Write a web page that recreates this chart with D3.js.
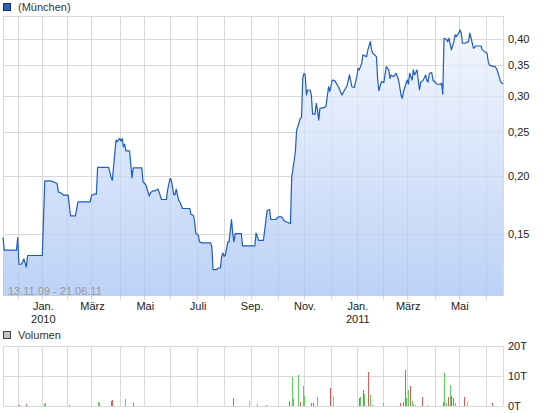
<!DOCTYPE html>
<html><head><meta charset="utf-8">
<script src="https://cdn.jsdelivr.net/npm/d3@7"></script>
<style>body{margin:0;background:#fff} svg{display:block;font-family:"Liberation Sans",Arial,sans-serif}</style>
</head><body><svg id="c" width="545" height="413"></svg>
<script>
// ---------- data ----------
const seriesName = "(München)";
const volumeName = "Volumen";
const rangeLabel = "13.11.09 - 21.06.11";
const firstDay = "2009-11-13", lastDay = "2011-06-21";
const holidays = ["2009-12-24","2009-12-25","2009-12-31","2010-01-01","2010-04-02","2010-04-05",
  "2010-12-24","2010-12-31","2011-04-22","2011-04-25"];

const priceDates = [
"2009-11-13","2009-11-16","2009-11-30","2009-12-01","2009-12-02","2009-12-04","2009-12-08","2009-12-10","2009-12-11",
"2010-01-04","2010-01-06","2010-01-13","2010-01-20","2010-01-21","2010-01-26","2010-01-27","2010-02-02","2010-02-04",
"2010-02-10","2010-02-12","2010-02-26","2010-03-01","2010-03-03","2010-03-05","2010-03-08","2010-03-19","2010-03-23",
"2010-03-24","2010-03-25","2010-03-29","2010-03-30","2010-04-01","2010-04-06","2010-04-07","2010-04-08","2010-04-09",
"2010-04-12","2010-04-15","2010-04-19","2010-04-20","2010-04-29","2010-04-30","2010-05-04","2010-05-05","2010-05-07",
"2010-05-10","2010-05-12","2010-05-14","2010-05-18","2010-05-19","2010-05-21","2010-05-27","2010-05-28","2010-06-01",
"2010-06-02","2010-06-04","2010-06-07","2010-06-08","2010-06-10","2010-06-11","2010-06-15","2010-06-23","2010-06-24",
"2010-06-28","2010-06-29","2010-06-30","2010-07-02","2010-07-05","2010-07-07","2010-07-16","2010-07-19","2010-07-20",
"2010-07-23","2010-07-26","2010-07-28","2010-07-29","2010-07-30","2010-08-02","2010-08-03","2010-08-05","2010-08-06",
"2010-08-10","2010-08-11","2010-08-12","2010-08-13","2010-08-20","2010-08-23","2010-09-06","2010-09-07","2010-09-09",
"2010-09-15","2010-09-20","2010-09-22","2010-09-23","2010-09-29","2010-10-01","2010-10-06","2010-10-08","2010-10-12",
"2010-10-15","2010-10-18","2010-10-21","2010-10-22","2010-10-25","2010-10-27","2010-10-28","2010-10-29","2010-11-01",
"2010-11-02","2010-11-03","2010-11-04","2010-11-08","2010-11-09","2010-11-10","2010-11-12","2010-11-15","2010-11-16",
"2010-11-17","2010-11-18","2010-11-24","2010-11-25","2010-11-29","2010-11-30","2010-12-02","2010-12-06","2010-12-09",
"2010-12-14","2010-12-16","2010-12-20","2010-12-22","2010-12-27","2010-12-29","2011-01-03","2011-01-04","2011-01-05",
"2011-01-07","2011-01-10","2011-01-13","2011-01-14","2011-01-18","2011-01-19","2011-01-20","2011-01-25","2011-01-26",
"2011-01-27","2011-01-31","2011-02-02","2011-02-04","2011-02-08","2011-02-09","2011-02-10","2011-02-14","2011-02-16",
"2011-02-18","2011-02-22","2011-02-23","2011-02-24","2011-03-01","2011-03-02","2011-03-03","2011-03-07","2011-03-08",
"2011-03-09","2011-03-11","2011-03-14","2011-03-15","2011-03-16","2011-03-18","2011-03-22","2011-03-23","2011-03-24",
"2011-03-25","2011-03-29","2011-03-30","2011-04-04","2011-04-07","2011-04-08","2011-04-11","2011-04-12","2011-04-14",
"2011-04-15","2011-04-18","2011-04-20","2011-04-26","2011-04-27","2011-04-28","2011-05-02","2011-05-03","2011-05-04",
"2011-05-05","2011-05-09","2011-05-12","2011-05-13","2011-05-17","2011-05-18","2011-05-20","2011-05-26","2011-05-27",
"2011-05-31","2011-06-02","2011-06-03","2011-06-06","2011-06-09","2011-06-10","2011-06-14","2011-06-15","2011-06-17",
"2011-06-21"];
const priceValues = [
0.147,0.138,0.138,0.147,0.1285,0.1285,0.132,0.1267,0.1343,
0.1343,0.1956,0.1956,0.1931,0.1851,0.1836,0.182,0.182,0.1639,
0.1639,0.176,0.176,0.1814,0.1829,0.1829,0.2093,0.2093,0.199,
0.1963,0.21,0.2402,0.2382,0.2423,0.239,0.2423,0.2322,0.2353,
0.2276,0.2276,0.1986,0.2088,0.2088,0.1946,0.1923,0.1892,0.1811,
0.1843,0.186,0.186,0.1877,0.1851,0.1781,0.1781,0.187,0.198,
0.1963,0.1826,0.1826,0.1877,0.1774,0.176,0.1702,0.1702,0.1651,
0.1645,0.159,0.150,0.1487,0.1438,0.1431,0.1431,0.1402,0.1251,
0.1251,0.1261,0.1261,0.1338,0.136,0.1338,0.1345,0.1438,0.1438,
0.161,0.150,0.1438,0.150,0.150,0.1409,0.1409,0.1504,0.145,
0.145,0.1687,0.1693,0.161,0.161,0.1631,0.1631,0.1598,0.159,
0.1578,0.199,0.2265,0.2529,0.2569,0.268,0.2688,0.328,0.3364,
0.3336,0.3015,0.3092,0.3092,0.3015,0.2739,0.2739,0.2891,0.2795,
0.2658,0.2819,0.2832,0.2861,0.3144,0.3066,0.3252,0.3241,0.3144,
0.3015,0.3092,0.3155,0.3336,0.3144,0.3134,0.3307,0.345,0.3422,
0.3539,0.369,0.3658,0.3784,0.3946,0.3784,0.3721,0.3658,0.3252,
0.3081,0.3225,0.3209,0.3478,0.3422,0.328,0.3336,0.3307,0.3364,
0.3252,0.3015,0.2965,0.3066,0.3252,0.3187,0.3364,0.3252,0.3422,
0.3336,0.3422,0.3252,0.3092,0.3218,0.3246,0.3336,0.3241,0.3218,
0.3364,0.3374,0.3252,0.3187,0.3182,0.3199,0.303,0.4014,0.3994,
0.3946,0.4014,0.3784,0.3946,0.4082,0.4047,0.4117,0.4186,0.4117,
0.3914,0.3914,0.3946,0.412,0.3914,0.3816,0.386,0.386,0.3796,
0.3751,0.3721,0.3567,0.3505,0.3478,0.349,0.3437,0.3364,0.3225,
0.3187];

const volDates = [
"2009-12-01","2009-12-02","2009-12-10","2010-01-05","2010-01-06","2010-02-03","2010-03-08","2010-03-09","2010-03-23",
"2010-03-24","2010-04-09","2010-04-20","2010-08-11","2010-08-30","2010-09-08","2010-09-17","2010-10-14","2010-10-18",
"2010-10-19","2010-10-25","2010-10-27","2010-10-29","2010-11-01","2010-11-09","2010-11-10","2010-11-16","2010-11-30",
"2010-12-03","2011-01-05","2011-01-06","2011-01-10","2011-01-11","2011-01-14","2011-01-18","2011-01-19","2011-02-01",
"2011-02-21","2011-02-24","2011-02-25","2011-02-28","2011-03-02","2011-03-03","2011-03-07","2011-03-08","2011-03-09",
"2011-03-17","2011-03-23","2011-04-11","2011-04-12","2011-04-14","2011-04-15","2011-04-19","2011-04-20","2011-04-21",
"2011-04-27","2011-05-06","2011-05-11","2011-06-08"];
const volValues = [
0.2,0.1,0.6,0.6,0.9,0.2,1.25,0.7,1.6,
1.9,2.3,0.9,2.6,1.6,0.6,0.2,1.6,9.4,
2.3,10.1,1.25,6.4,3.3,0.9,0.9,3.0,6.0,
3.3,2.6,3.0,5.3,4.0,11.1,3.6,0.2,0.9,
0.9,1.25,11.8,2.6,5.3,6.4,1.6,0.6,0.2,
3.0,0.2,1.25,10.8,0.9,3.0,6.7,3.3,2.6,
0.9,3.0,1.25,0.9];
const volDirection = [
"up","down","down","up","up","down","up","up","down",
"down","up","down","down","flat","up","up","down","up",
"up","up","down","up","up","down","down","up","down",
"flat","down","up","down","up","down","up","up","up",
"down","down","down","up","up","down","up","up","up",
"down","up","down","up","up","down","up","down","down",
"up","down","flat","down"];

const priceTicks = [0.15, 0.20, 0.25, 0.30, 0.35, 0.40];
const volTicks = [0, 10, 20];
const monthLabelMonths = ["2010-01","2010-03","2010-05","2010-07","2010-09","2010-11","2011-01","2011-03","2011-05"];
const monthLabels = ["Jan.","März","Mai","Juli","Sep.","Nov.","Jan.","März","Mai"];
const yearLabels = ["2010","","","","","","2011","",""];

// ---------- trading calendar ----------
const fmt = d3.utcFormat("%Y-%m-%d");
const tradingDays = [];
for (let d = new Date(firstDay + "T00:00:00Z"); fmt(d) <= lastDay; d = d3.utcDay.offset(d, 1)) {
  const wd = d.getUTCDay();
  if (wd === 0 || wd === 6) continue;
  if (holidays.includes(fmt(d))) continue;
  tradingDays.push(fmt(d));
}
const dayIndex = new Map(tradingDays.map((d, i) => [d, i]));
function idx(s) {
  let d = new Date(s + "T00:00:00Z");
  while (!dayIndex.has(fmt(d)) && fmt(d) <= lastDay) d = d3.utcDay.offset(d, 1);
  return dayIndex.get(fmt(d));
}
const monthStarts = tradingDays.map((d, i) => i).filter(i => i > 0 && tradingDays[i].slice(0, 7) !== tradingDays[i - 1].slice(0, 7));
const firstOfMonth = m => tradingDays.findIndex(d => d.slice(0, 7) === m);

// ---------- layout ----------
const L = 3, R = 503, T = 16, B = 296;
const VT = 345.5, VB = 405.5;
const svg = d3.select("#c");
const x = d3.scaleLinear().domain([0, tradingDays.length - 1]).range([L, R]);
const y = d3.scaleLog().domain([0.1095, 0.449]).range([B, T]);
const yv = d3.scaleLinear().domain([0, 20]).range([VB, VT]);
const px = v => Math.round(v) + 0.5;
const gridC = "#d9d9d9";

// legend top
svg.append("rect").attr("x", 3.5).attr("y", 3.5).attr("width", 7).attr("height", 7)
  .attr("fill", "#2462c6").attr("stroke", "#1b2f58");
svg.append("text").attr("x", 18).attr("y", 11).attr("font-size", 11).attr("fill", "#333").text(seriesName);

// gradient
const defs = svg.append("defs");
const grad = defs.append("linearGradient").attr("id", "fillg").attr("gradientUnits", "userSpaceOnUse")
  .attr("x1", 0).attr("x2", 0).attr("y1", T).attr("y2", B);
grad.append("stop").attr("offset", 0).attr("stop-color", "#f2f6fe");
grad.append("stop").attr("offset", 1).attr("stop-color", "#a6c3f3");

// main grid
const g = svg.append("g").attr("shape-rendering", "crispEdges");
g.selectAll(".hg").data(priceTicks).join("line")
  .attr("x1", L).attr("x2", R).attr("y1", d => px(y(d))).attr("y2", d => px(y(d))).attr("stroke", gridC);
g.selectAll(".vg").data(monthStarts).join("line")
  .attr("x1", d => px(x(d))).attr("x2", d => px(x(d))).attr("y1", T).attr("y2", B + 4).attr("stroke", gridC);
g.append("line").attr("x1", px(L)).attr("x2", px(L)).attr("y1", T).attr("y2", B).attr("stroke", gridC);
g.append("line").attr("x1", px(R)).attr("x2", px(R)).attr("y1", T).attr("y2", B).attr("stroke", gridC);
g.append("line").attr("x1", L).attr("x2", R).attr("y1", px(T)).attr("y2", px(T)).attr("stroke", gridC);

// area + line
const pts = priceDates.map((d, i) => ({ i: idx(d), v: priceValues[i] }));
svg.append("path").datum(pts)
  .attr("d", d3.area().x(d => x(d.i)).y0(B).y1(d => y(d.v)))
  .attr("fill", "url(#fillg)").attr("fill-opacity", 0.75);
svg.append("path").datum(pts)
  .attr("d", d3.line().x(d => x(d.i)).y(d => y(d.v)))
  .attr("fill", "none").attr("stroke", "#1f5cc0").attr("stroke-width", 1.2).attr("stroke-linejoin", "round");

// range label
svg.append("text").attr("x", 8).attr("y", 295).attr("font-size", 11).attr("fill", "#9a9a9a").text(rangeLabel);

// y labels
svg.selectAll(".yl").data(priceTicks).join("text")
  .attr("x", 508).attr("y", d => y(d) + 4).attr("font-size", 11).attr("fill", "#222")
  .text(d => d3.format(".2f")(d).replace(".", ","));

// x labels
monthLabelMonths.forEach((m, k) => {
  const xi = x(firstOfMonth(m));
  svg.append("text").attr("x", xi + 1).attr("y", 310).attr("text-anchor", "middle")
    .attr("font-size", 11).attr("fill", "#222").text(monthLabels[k]);
  if (yearLabels[k]) svg.append("text").attr("x", xi + 1).attr("y", 323).attr("text-anchor", "middle")
    .attr("font-size", 11).attr("fill", "#222").text(yearLabels[k]);
});

// volume legend
svg.append("rect").attr("x", 3.5).attr("y", 331.5).attr("width", 7).attr("height", 7)
  .attr("fill", "#c4c4c4").attr("stroke", "#444");
svg.append("text").attr("x", 18).attr("y", 339).attr("font-size", 11).attr("fill", "#333").text(volumeName);

// volume grid
const gv = svg.append("g").attr("shape-rendering", "crispEdges");
gv.selectAll(".vh").data(volTicks).join("line")
  .attr("x1", L).attr("x2", R).attr("y1", d => Math.round(yv(d)) + 0.5).attr("y2", d => Math.round(yv(d)) + 0.5).attr("stroke", gridC);
gv.selectAll(".vv").data(monthStarts).join("line")
  .attr("x1", d => px(x(d))).attr("x2", d => px(x(d))).attr("y1", VT).attr("y2", VB).attr("stroke", gridC);
gv.append("line").attr("x1", px(L)).attr("x2", px(L)).attr("y1", VT).attr("y2", VB).attr("stroke", gridC);
gv.append("line").attr("x1", px(R)).attr("x2", px(R)).attr("y1", VT).attr("y2", VB).attr("stroke", gridC);

const volColor = { up: "#5cd05c", down: "#e05a5a", flat: "#b8b8b8" };
svg.append("g").attr("shape-rendering", "crispEdges").selectAll("rect")
  .data(volDates.map((d, i) => ({ i: idx(d), v: volValues[i], c: volDirection[i] })))
  .join("rect")
  .attr("x", d => Math.round(x(d.i)))
  .attr("width", 1)
  .attr("y", d => yv(d.v))
  .attr("height", d => yv(0) - yv(d.v))
  .attr("fill", d => volColor[d.c]);

svg.selectAll(".vl").data(volTicks).join("text")
  .attr("x", 508).attr("y", d => yv(d) + 4).attr("font-size", 11).attr("fill", "#222")
  .text(d => d + "T");
</script></body></html>
